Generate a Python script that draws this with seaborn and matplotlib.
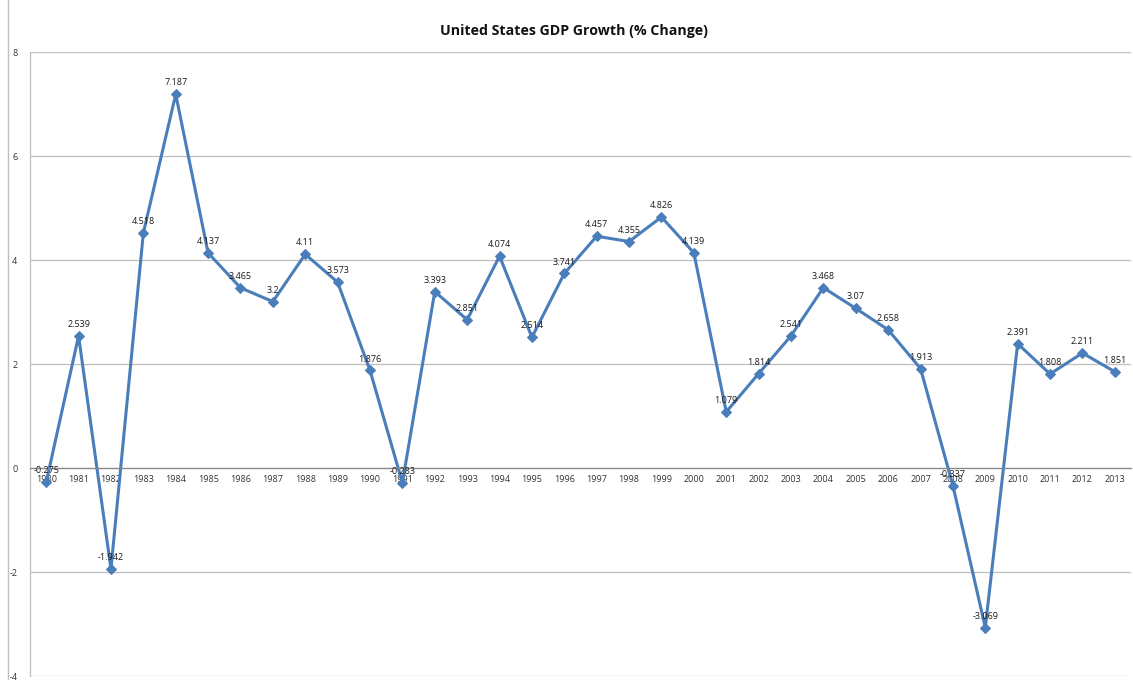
import matplotlib
matplotlib.use("Agg")
import matplotlib.pyplot as plt
import seaborn as sns
import pandas as pd
from matplotlib.lines import Line2D
from matplotlib.ticker import FixedLocator

years = [str(y) for y in range(1980, 2014)]
growth = [-0.275, 2.539, -1.942, 4.518, 7.187, 4.137, 3.465, 3.2, 4.11, 3.573,
          1.876, -0.283, 3.393, 2.851, 4.074, 2.514, 3.741, 4.457, 4.355, 4.826,
          4.139, 1.079, 1.814, 2.541, 3.468, 3.07, 2.658, 1.913, -0.337, -3.069,
          2.391, 1.808, 2.211, 1.851]
y_ticks = [-4, -2, 0, 2, 4, 6, 8]
title = "United States GDP Growth (% Change)"

sns.set_theme(style="white")
plt.rcParams["font.family"] = ["Open Sans", "DejaVu Sans"]
plt.rcParams["axes.unicode_minus"] = False

df = pd.DataFrame({"year": years, "growth": growth})
df["pos"] = range(len(df))

fig = plt.figure(figsize=(11.33, 6.8), dpi=100)
ax = fig.add_axes([30 / 1133, 4 / 680, 1101 / 1133, 624 / 680])

line_color = "#4A7EBB"
sns.lineplot(data=df, x="pos", y="growth", ax=ax, color=line_color, linewidth=2.2,
             marker="D", markersize=5, markeredgecolor=line_color, markerfacecolor=line_color)

for x, v in zip(df["pos"], df["growth"]):
    ax.annotate(f"{v:g}", (x, v), xytext=(0, 5), textcoords="offset points",
                ha="center", va="bottom", fontsize=6.5, color="#1a1a1a")

ax.set_xlim(-0.5, len(years) - 0.5)
ax.set_ylim(-4, 8)
ax.set_yticks(y_ticks)
ax.set_yticklabels([str(t) for t in y_ticks])
ax.yaxis.grid(True, color="#BFBFBF", linewidth=0.9)
ax.set_axisbelow(True)

ax.set_xticks(df["pos"])
ax.set_xticklabels(years)
ax.xaxis.set_minor_locator(FixedLocator([i - 0.5 for i in range(len(years) + 1)]))
ax.tick_params(axis="x", which="major", length=0, pad=5, labelsize=6.5, labelcolor="#333333")
ax.tick_params(axis="x", which="minor", direction="inout", length=5, color="#888888", width=0.8)
ax.tick_params(axis="y", length=0, pad=9, labelsize=6.5, labelcolor="#333333")

ax.spines["bottom"].set_position(("data", 0))
ax.spines["bottom"].set_color("#888888")
ax.spines["bottom"].set_linewidth(0.9)
ax.spines["left"].set_color("#BFBFBF")
ax.spines["left"].set_linewidth(0.9)
for s in ("top", "right"):
    ax.spines[s].set_visible(False)
ax.set_xlabel("")
ax.set_ylabel("")

fig.text(574 / 1133, 1 - 31 / 680, title, ha="center", va="center",
         fontsize=10.2, fontweight="bold", color="#111111")

fig.add_artist(Line2D([8 / 1133, 8 / 1133], [0, 1], transform=fig.transFigure,
                      color="#BFBFBF", linewidth=1))

fig.savefig("out.png", dpi=100, facecolor="white")
